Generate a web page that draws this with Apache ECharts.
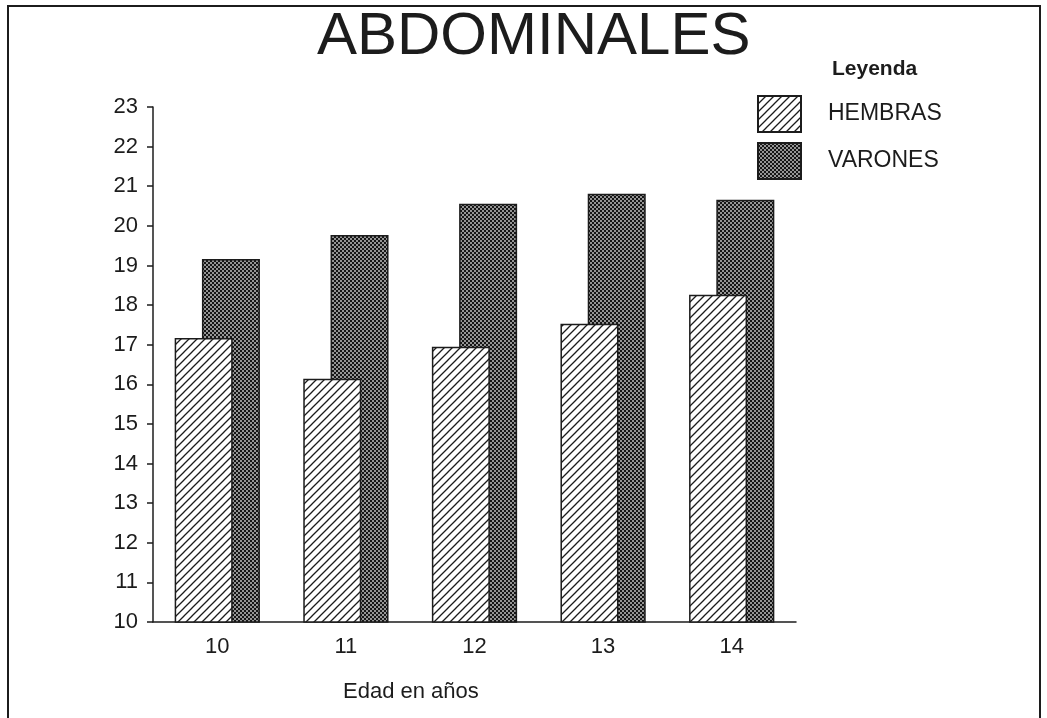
<!DOCTYPE html>
<html>
<head>
<meta charset="utf-8">
<script src="https://cdn.jsdelivr.net/npm/echarts@6/dist/echarts.min.js"></script>
<style>
  html, body { margin: 0; padding: 0; background: #fff; }
  #chart { width: 1047px; height: 718px; }
</style>
</head>
<body>
<div id="chart"></div>
<script>
// datos
const edades = ['10', '11', '12', '13', '14'];
const hembras = [17.17, 16.14, 16.95, 17.53, 18.26];
const varones = [19.16, 19.77, 20.56, 20.81, 20.66];
const yTicks = [10, 11, 12, 13, 14, 15, 16, 17, 18, 19, 20, 21, 22, 23];

const ink = '#1c1c1c';

// rayado diagonal para HEMBRAS
const makeHatch = () => {
  const c = document.createElement('canvas');
  c.width = 8;
  c.height = 8;
  const ctx = c.getContext('2d');
  ctx.fillStyle = '#fff';
  ctx.fillRect(0, 0, 8, 8);
  ctx.strokeStyle = ink;
  ctx.lineWidth = 1.3;
  ctx.beginPath();
  ctx.moveTo(-1, 9); ctx.lineTo(9, -1);
  ctx.moveTo(-1, 1); ctx.lineTo(1, -1);
  ctx.moveTo(7, 9); ctx.lineTo(9, 7);
  ctx.stroke();
  return c;
};

// trama punteada oscura para VARONES
const makeDots = () => {
  const c = document.createElement('canvas');
  c.width = 4;
  c.height = 4;
  const ctx = c.getContext('2d');
  ctx.fillStyle = '#161616';
  ctx.fillRect(0, 0, 4, 4);
  ctx.fillStyle = 'rgba(255,255,255,0.55)';
  ctx.fillRect(0, 0, 2, 2);
  ctx.fillRect(2, 2, 2, 2);
  return c;
};

const chart = echarts.init(document.getElementById('chart'));

const option = {
  backgroundColor: '#fff',
  animation: false,
  textStyle: { fontFamily: 'Liberation Sans, Arial, sans-serif', color: ink },
  title: [
    {
      text: 'ABDOMINALES',
      left: 317,
      top: 7,
      padding: 0,
      textStyle: { fontSize: 60, fontWeight: 'normal', color: ink }
    },
    {
      text: 'Leyenda',
      left: 832,
      top: 59,
      padding: 0,
      textStyle: { fontSize: 21, fontWeight: 'bold', color: ink }
    },
    {
      text: 'Edad en años',
      left: 343,
      top: 681,
      padding: 0,
      textStyle: { fontSize: 22, fontWeight: 'normal', color: ink }
    }
  ],
  legend: {
    orient: 'vertical',
    left: 757,
    top: 95,
    padding: 0,
    itemWidth: 43,
    itemHeight: 36,
    itemGap: 9,
    icon: 'rect',
    data: ['HEMBRAS', 'VARONES'],
    textStyle: { fontSize: 23, color: ink, padding: [0, 0, 0, 22] }
  },
  grid: {
    left: 153,
    right: 251,
    top: 107,
    bottom: 96
  },
  xAxis: {
    type: 'category',
    data: edades,
    axisLine: { lineStyle: { color: ink, width: 1.5 } },
    axisTick: { alignWithLabel: true, length: 6, lineStyle: { color: ink, width: 1.5 } },
    axisLabel: { fontSize: 22, color: ink, margin: 14 }
  },
  yAxis: {
    type: 'value',
    min: yTicks[0],
    max: yTicks[yTicks.length - 1],
    interval: 1,
    axisLine: { show: true, lineStyle: { color: ink, width: 1.5 } },
    axisTick: { show: true, length: 6, lineStyle: { color: ink, width: 1.5 } },
    axisLabel: { fontSize: 22, color: ink, margin: 15 },
    splitLine: { show: false }
  },
  series: [
    {
      name: 'HEMBRAS',
      type: 'bar',
      data: hembras,
      z: 3,
      barWidth: 58,
      barGap: '-53%',
      itemStyle: {
        color: { image: makeHatch(), repeat: 'repeat' },
        borderColor: ink,
        borderWidth: 1.5
      }
    },
    {
      name: 'VARONES',
      type: 'bar',
      data: varones,
      z: 2,
      barWidth: 58,
      barGap: '-53%',
      itemStyle: {
        color: { image: makeDots(), repeat: 'repeat' },
        borderColor: ink,
        borderWidth: 1.5
      }
    }
  ],
  graphic: [
    {
      type: 'rect',
      silent: true,
      shape: { x: 8, y: 6, width: 1032, height: 760 },
      style: { fill: null, stroke: ink, lineWidth: 2 }
    }
  ]
};

chart.setOption(option);

window.addEventListener('resize', () => {
  chart?.resize();
});
</script>
</body>
</html>
